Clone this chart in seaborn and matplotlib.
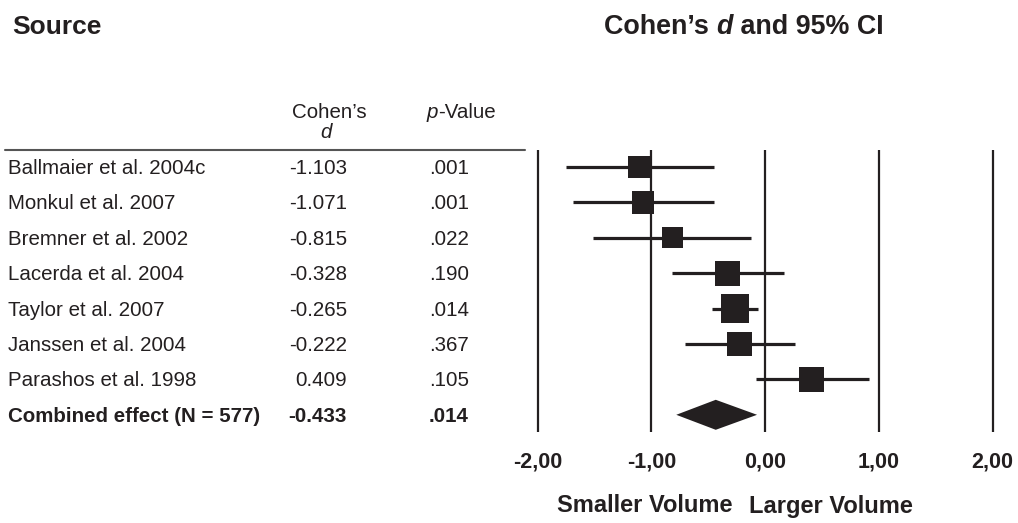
import numpy as np
import pandas as pd
import matplotlib
matplotlib.use("Agg")
import matplotlib.pyplot as plt
import matplotlib.transforms as mtransforms
import seaborn as sns

# Data
studies = ["Ballmaier et al. 2004c", "Monkul et al. 2007", "Bremner et al. 2002",
           "Lacerda et al. 2004", "Taylor et al. 2007", "Janssen et al. 2004",
           "Parashos et al. 1998"]
cohens_d = [-1.103, -1.071, -0.815, -0.328, -0.265, -0.222, 0.409]
ci_low = [-1.75, -1.69, -1.51, -0.82, -0.47, -0.70, -0.08]
ci_high = [-0.45, -0.45, -0.12, 0.17, -0.06, 0.26, 0.91]
p_values = [".001", ".001", ".022", ".190", ".014", ".367", ".105"]
box_weight = [0.66, 0.63, 0.55, 0.76, 1.00, 0.76, 0.76]  # relative square area

combined_label = "Combined effect (N = 577)"
combined_d = -0.433
combined_low = -0.78
combined_high = -0.07
combined_p = ".014"

x_ticks = [-2, -1, 0, 1, 2]

df = pd.DataFrame({"study": studies, "d": cohens_d, "lo": ci_low, "hi": ci_high,
                   "p": p_values, "w": box_weight})
df["row"] = np.arange(len(df))
combined_row = len(df)

sns.set_style("white")
plt.rcParams["font.family"] = ["Liberation Sans", "DejaVu Sans"]

ink = "#231f20"
W, H = 1018, 523
fig = plt.figure(figsize=(W / 100, H / 100), dpi=100)


def fx(px):
    return px / W


def fy(py):
    return 1 - py / H


# forest plot axes
ax = fig.add_axes([fx(520), fy(432), fx(1012) - fx(520), fy(150) - fy(432)])
ax.set_xlim(-(765 - 520) / 113.75, (1012 - 765) / 113.75)
ax.set_ylim(265 / 35.4, -17 / 35.4)

for t in x_ticks:
    ax.axvline(t, color=ink, lw=1.6, zorder=1)

ax.hlines(df["row"], df["lo"], df["hi"], color=ink, lw=2.3, zorder=2)

# square area in points^2, largest box about 28 px wide
df["area"] = df["w"] * (28.3 * 0.72) ** 2
sns.scatterplot(data=df, x="d", y="row", size="area",
                sizes=(df["area"].min(), df["area"].max()),
                size_norm=(df["area"].min(), df["area"].max()),
                marker="s", color=ink, linewidth=0, legend=False, ax=ax, zorder=3)

half_h = 15 / 35.4
ax.fill([combined_low, combined_d, combined_high, combined_d],
        [combined_row, combined_row - half_h, combined_row, combined_row + half_h],
        color=ink, lw=0, zorder=3)

ax.set_xticks(x_ticks)
ax.set_xticklabels([f"{t:.2f}".replace(".", ",") for t in x_ticks],
                   fontsize=15.5, fontweight="bold", color=ink)
ax.tick_params(axis="x", length=0, pad=14)
ax.set_yticks([])
ax.set_xlabel("")
ax.set_ylabel("")
for s in ax.spines.values():
    s.set_visible(False)
ax.patch.set_alpha(0)

# table on the left, rows share the y scale of the forest axes
trans = (mtransforms.blended_transform_factory(fig.transFigure, ax.transData)
         + mtransforms.ScaledTranslation(0, -0.015, fig.dpi_scale_trans))
fs = 14.8
for _, r in df.iterrows():
    fig.text(fx(8), r["row"], r["study"], transform=trans, fontsize=fs,
             color=ink, va="center", ha="left")
    fig.text(fx(347), r["row"], f"{r['d']:.3f}", transform=trans, fontsize=fs,
             color=ink, va="center", ha="right")
    fig.text(fx(429), r["row"], r["p"], transform=trans, fontsize=fs,
             color=ink, va="center", ha="left")
fig.text(fx(8), combined_row, combined_label, transform=trans, fontsize=fs,
         fontweight="bold", color=ink, va="center", ha="left")
fig.text(fx(347), combined_row, f"{combined_d:.3f}", transform=trans, fontsize=fs,
         fontweight="bold", color=ink, va="center", ha="right")
fig.text(fx(429), combined_row, combined_p, transform=trans, fontsize=fs,
         fontweight="bold", color=ink, va="center", ha="left")

# headers
fig.text(fx(12), fy(27), "Source", fontsize=19, fontweight="bold", color=ink,
         va="center", ha="left")

# title in three pieces so only the d is italic
renderer = fig.canvas.get_renderer()
x_pos = 604
for piece, st in [("Cohen’s ", "normal"), ("d", "italic"), (" and 95% CI", "normal")]:
    t = fig.text(fx(x_pos), fy(27), piece, fontsize=19.4, fontweight="bold",
                 style=st, color=ink, va="center", ha="left")
    x_pos += t.get_window_extent(renderer).width

fig.text(fx(329), fy(113), "Cohen’s", fontsize=fs, color=ink, va="center", ha="center")
fig.text(fx(326), fy(132), "d", fontsize=fs, color=ink, style="italic",
         va="center", ha="center")
fig.text(fx(427), fy(113), "p", fontsize=fs, color=ink, style="italic",
         va="center", ha="left")
fig.text(fx(438), fy(113), "-Value", fontsize=fs, color=ink, va="center", ha="left")

fig.add_artist(plt.Line2D([fx(5), fx(525)], [fy(150), fy(150)], color="#555555", lw=1.5))

fig.text(fx(645), fy(506), "Smaller Volume", fontsize=17, fontweight="bold",
         color=ink, va="center", ha="center")
fig.text(fx(831), fy(506), "Larger Volume", fontsize=17, fontweight="bold",
         color=ink, va="center", ha="center")

fig.savefig("out.png", dpi=100)
